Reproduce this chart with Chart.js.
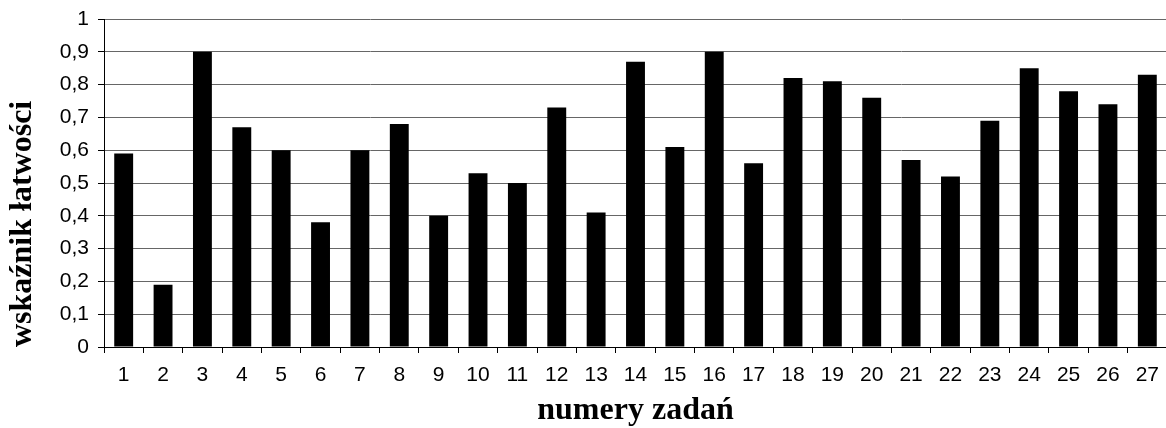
<!DOCTYPE html>
<html>
<head>
<meta charset="utf-8">
<script src="https://cdn.jsdelivr.net/npm/chart.js@4"></script>
<style>
  html, body { margin: 0; padding: 0; background: #fff; overflow: hidden; }
  #wrap { width: 1168px; height: 428px; }
</style>
</head>
<body>
<div id="wrap"><canvas id="c" width="1168" height="428"></canvas></div>
<script>
const categories = ['1','2','3','4','5','6','7','8','9','10','11','12','13','14','15','16','17','18','19','20','21','22','23','24','25','26','27'];
const easiness = [0.59, 0.19, 0.90, 0.67, 0.60, 0.38, 0.60, 0.68, 0.40, 0.53, 0.50, 0.73, 0.41, 0.87, 0.61, 0.90, 0.56, 0.82, 0.81, 0.76, 0.57, 0.52, 0.69, 0.85, 0.78, 0.74, 0.83];
const yTickLabels = ['0','0,1','0,2','0,3','0,4','0,5','0,6','0,7','0,8','0,9','1'];
const xTitle = 'numery zadań';
const yTitle = 'wskaźnik łatwości';

const tickFont = { family: '"Liberation Sans", Arial, sans-serif', size: 21 };
const titleFont = { family: '"Liberation Serif", "Times New Roman", serif', size: 32, weight: 'bold', lineHeight: 1.1 };

new Chart(document.getElementById('c'), {
  type: 'bar',
  data: {
    labels: categories,
    datasets: [{
      data: easiness,
      backgroundColor: '#000',
      borderWidth: 0,
      barPercentage: 0.48,
      categoryPercentage: 1.0
    }]
  },
  options: {
    responsive: false,
    animation: false,
    events: [],
    layout: { padding: { top: 19, right: 1, bottom: 0, left: 0 } },
    plugins: { legend: { display: false }, tooltip: { enabled: false } },
    scales: {
      x: {
        offset: true,
        grid: { drawOnChartArea: false, offset: true, tickLength: 6, tickColor: '#000', lineWidth: 1 },
        border: { display: true, color: '#000', width: 1 },
        ticks: { font: tickFont, color: '#000', padding: 10, maxRotation: 0, autoSkip: false },
        title: { display: true, text: xTitle, font: titleFont, color: '#000', padding: { top: 4, bottom: 0 } },
        afterFit: s => { s.height = 81; s.paddingLeft = 0; s.paddingRight = 0; }
      },
      y: {
        min: 0, max: 1,
        grid: { color: '#666666', lineWidth: 1, tickLength: 6, tickColor: '#000' },
        border: { display: true, color: '#000', width: 1 },
        ticks: {
          stepSize: 0.1,
          font: tickFont, color: '#000', padding: 9,
          callback: (v, i) => yTickLabels[i]
        },
        title: { display: true, text: yTitle, font: titleFont, color: '#000', align: 'start', padding: { top: 5, bottom: 0 } },
        afterFit: s => { s.width = 104; s.paddingTop = 0; s.paddingBottom = 0; }
      }
    }
  }
});
</script>
</body>
</html>
